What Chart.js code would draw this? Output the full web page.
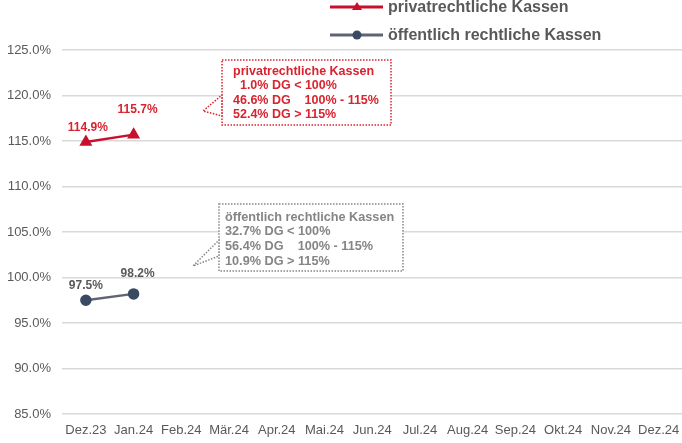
<!DOCTYPE html>
<html><head><meta charset="utf-8">
<script src="https://cdn.jsdelivr.net/npm/chart.js@4"></script>
<style>html,body{margin:0;padding:0;background:#fff;overflow:hidden}#wrap{width:682px;height:443px;position:relative;overflow:hidden}</style>
</head><body><div id="wrap"><canvas id="c" width="690" height="443"></canvas></div>
<script>
const categories = ["Dez.23","Jan.24","Feb.24","Mär.24","Apr.24","Mai.24","Jun.24","Jul.24","Aug.24","Sep.24","Okt.24","Nov.24","Dez.24"];
const privat = [114.9, 115.7, null, null, null, null, null, null, null, null, null, null, null];
const oeffentlich = [97.5, 98.2, null, null, null, null, null, null, null, null, null, null, null];
const yTicks = [85, 90, 95, 100, 105, 110, 115, 120, 125];
const seriesNames = ["privatrechtliche Kassen", "öffentlich rechtliche Kassen"];
const privatNote = ["privatrechtliche Kassen", "  1.0% DG < 100%", "46.6% DG    100% - 115%", "52.4% DG > 115%"];
const oeffNote = ["öffentlich rechtliche Kassen", "32.7% DG < 100%", "56.4% DG    100% - 115%", "10.9% DG > 115%"];

const RED = '#C8102E', LBLRED = '#D9232F', GREY = '#595959', NAVY = '#3A4A62';
const FONT = '"Liberation Sans", Arial, sans-serif';

const overlay = {
  id: 'overlay',
  afterDatasetsDraw(chart) {
    const ctx = chart.ctx;
    const xs = chart.scales.x, ys = chart.scales.y;
    ctx.save();
    ctx.font = 'bold 12px ' + FONT;
    ctx.textAlign = 'center';
    ctx.textBaseline = 'middle';
    const lblOff = [[[2, -14], [4, -25]], [[0, -15], [4, -20]]];
    [privat, oeffentlich].forEach((arr, si) => {
      ctx.fillStyle = si === 0 ? LBLRED : GREY;
      arr.forEach((v, i) => {
        if (v == null) return;
        const o = lblOff[si][i] || [0, -15];
        ctx.fillText(v.toFixed(1) + '%', xs.getPixelForValue(i) + o[0], ys.getPixelForValue(v) + o[1]);
      });
    });
    function callout(lines, color, box, tip, textX, textY, spacing, size) {
      ctx.strokeStyle = color;
      ctx.lineWidth = 1.5;
      ctx.setLineDash([1.5, 1.5]);
      const [x, y, w, h] = box;
      ctx.fillStyle = '#fff';
      ctx.beginPath();
      ctx.moveTo(x, y); ctx.lineTo(x + w, y); ctx.lineTo(x + w, y + h); ctx.lineTo(x, y + h);
      ctx.lineTo(x, tip[2]); ctx.lineTo(tip[0], tip[1]); ctx.lineTo(x, tip[3]); ctx.closePath();
      ctx.fill(); ctx.stroke();
      ctx.setLineDash([]);
      ctx.fillStyle = color;
      ctx.font = 'bold ' + size + 'px ' + FONT;
      ctx.textAlign = 'left';
      ctx.textBaseline = 'middle';
      lines.forEach((t, k) => ctx.fillText(t, x + textX, y + textY + k * spacing));
    }
    callout(privatNote, LBLRED, [222, 60, 169, 65], [203, 111, 95, 116], 11, 11.5, 14.5, 12.5);
    callout(oeffNote, '#858585', [219, 204, 184, 67], [193, 266, 240, 256], 6, 13, 14.7, 12.7);
    ctx.restore();
  }
};

const legendPlugin = {
  id: 'customLegend',
  afterDraw(chart) {
    const ctx = chart.ctx;
    ctx.save();
    ctx.font = 'bold 16px ' + FONT;
    ctx.textBaseline = 'middle';
    ctx.textAlign = 'left';
    const items = [
      {y: 7, color: RED, marker: 'tri', mcolor: RED},
      {y: 35, color: '#5F6470', marker: 'circ', mcolor: NAVY}
    ];
    items.forEach((it, k) => {
      ctx.strokeStyle = it.color; ctx.lineWidth = 3;
      ctx.beginPath(); ctx.moveTo(330, it.y); ctx.lineTo(383, it.y); ctx.stroke();
      ctx.fillStyle = it.mcolor;
      ctx.beginPath();
      if (it.marker === 'tri') { ctx.moveTo(357, it.y - 5); ctx.lineTo(362, it.y + 3); ctx.lineTo(352, it.y + 3); ctx.closePath(); }
      else { ctx.arc(357, it.y, 4.5, 0, Math.PI * 2); }
      ctx.fill();
      ctx.fillStyle = GREY;
      ctx.fillText(seriesNames[k], 388, it.y + 1);
    });
    ctx.restore();
  }
};

new Chart(document.getElementById('c'), {
  type: 'line',
  data: {
    labels: categories,
    datasets: [
      {label: seriesNames[0], data: privat, borderColor: RED, backgroundColor: RED, borderWidth: 2.5,
       pointStyle: 'triangle', pointRadius: 5, pointHoverRadius: 5, pointBackgroundColor: RED, pointBorderColor: RED},
      {label: seriesNames[1], data: oeffentlich, borderColor: '#5F6470', backgroundColor: NAVY, borderWidth: 2.5,
       pointStyle: 'circle', pointRadius: 4.5, pointHoverRadius: 4.5, pointBackgroundColor: NAVY, pointBorderColor: NAVY}
    ]
  },
  options: {
    responsive: false, animation: false,
    layout: {padding: {top: 50, right: 4, left: 0, bottom: 0}},
    plugins: {legend: {display: false}, tooltip: {enabled: false}},
    scales: {
      x: {
        offset: true,
        grid: {display: false, drawTicks: false},
        border: {display: false},
        ticks: {color: GREY, font: {family: FONT, size: 13}, padding: 9, maxRotation: 0, autoSkip: false},
        afterFit(s) { s.height = 29; }
      },
      y: {
        min: 85, max: 125,
        afterBuildTicks(s) { s.ticks = yTicks.map(v => ({value: v})); },
        grid: {color: '#D9D9D9', lineWidth: 1.5, drawTicks: false},
        border: {display: false},
        ticks: {color: GREY, font: {family: FONT, size: 13}, padding: 11, callback: v => v.toFixed(1) + '%'},
        afterFit(s) { s.width = 62; }
      }
    }
  },
  plugins: [overlay, legendPlugin]
});
</script></body></html>
